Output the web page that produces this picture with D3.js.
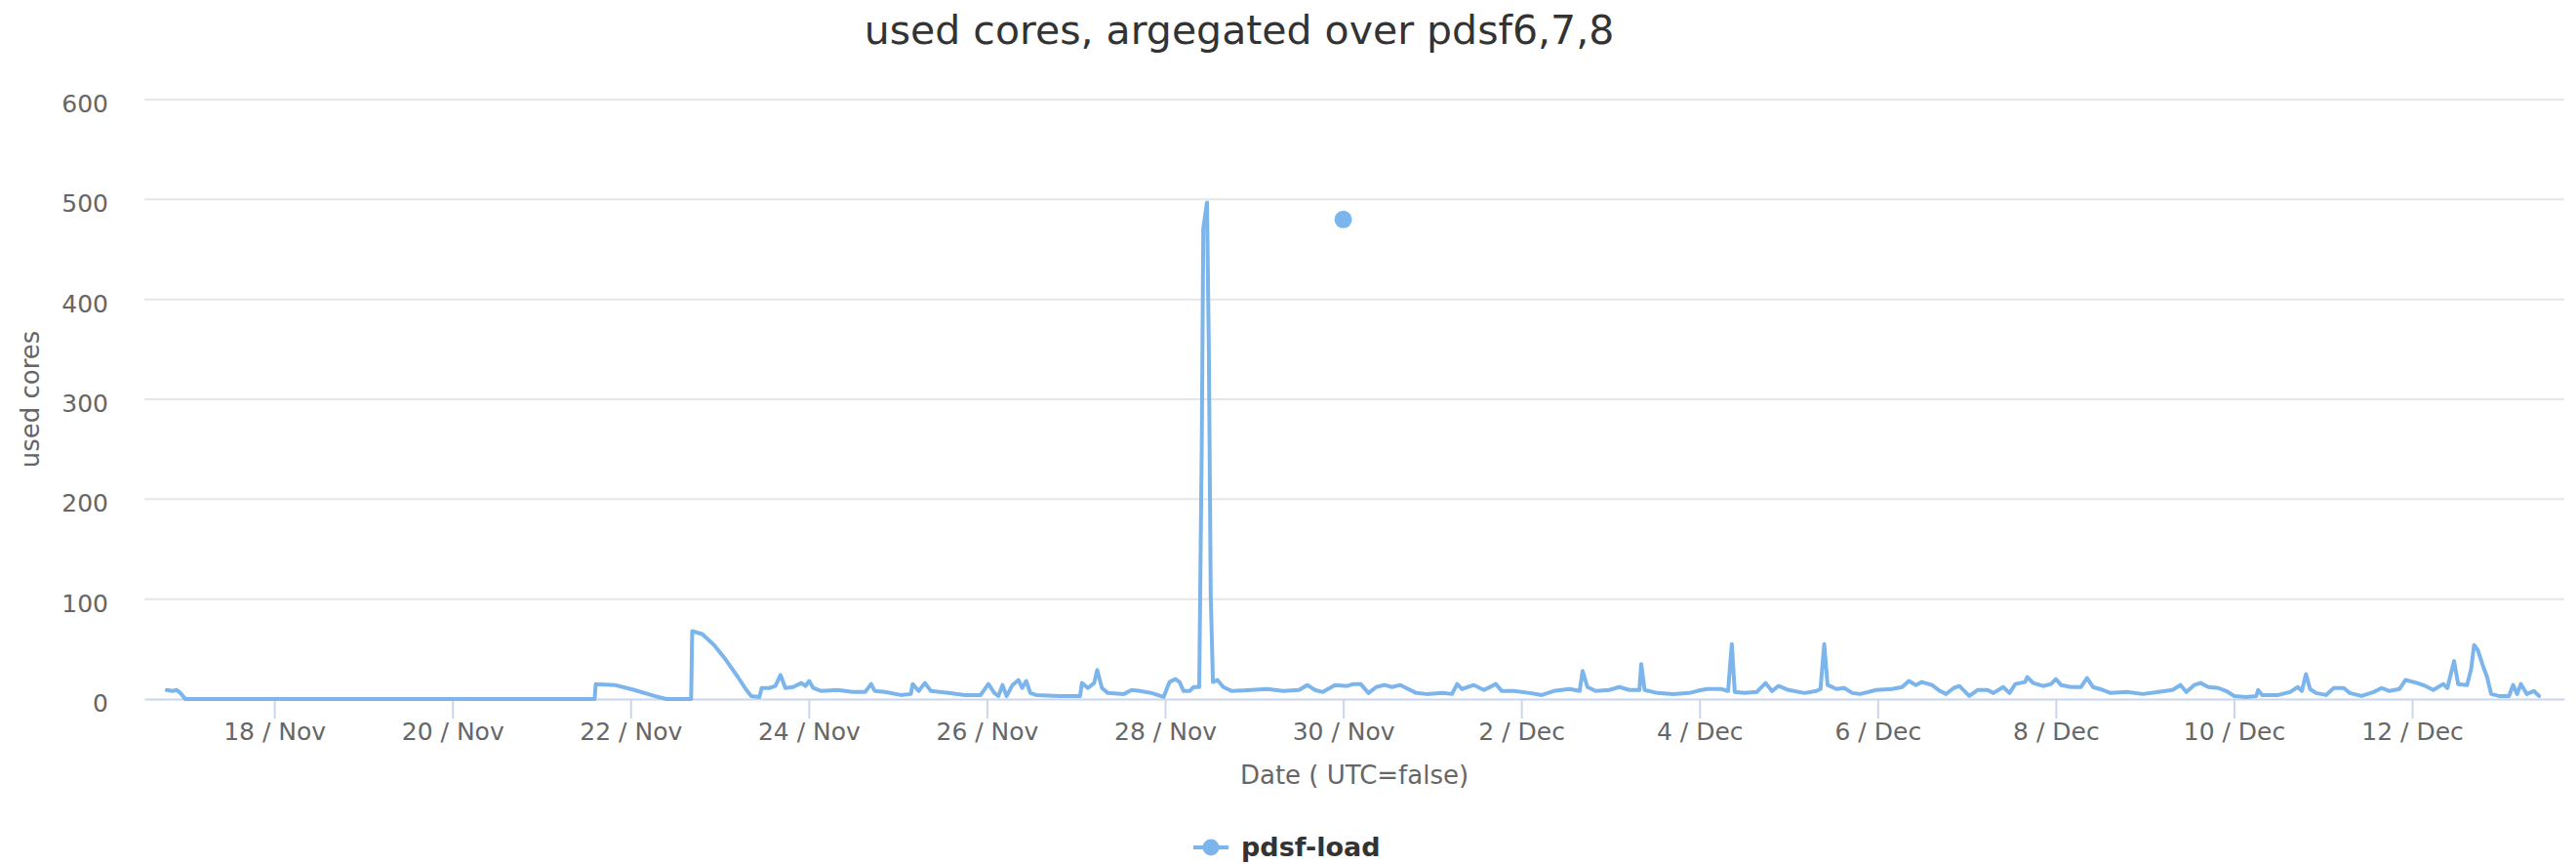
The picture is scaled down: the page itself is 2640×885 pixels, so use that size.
<!DOCTYPE html>
<html>
<head>
<meta charset="utf-8">
<script src="https://cdn.jsdelivr.net/npm/d3@7"></script>
<style>
  body { margin: 0; background: #fff; }
  svg text { font-family: "DejaVu Sans", sans-serif; }
</style>
</head>
<body>
<svg></svg>
<script>
(function (d3) {
  'use strict';

  // --- data ---
  const chartTitle = 'used cores, argegated over pdsf6,7,8';
  const seriesName = 'pdsf-load';
  const yTitle = 'used cores';
  const xTitle = 'Date ( UTC=false)';
  const yTicks = [0, 100, 200, 300, 400, 500, 600];

  // hours counted from 18 Nov 00:00
  const startDay = new Date(2017, 10, 18);
  const xDomainHours = [-35, 617];

  const hours = [
    -29.0, -27.4, -26.3, -25.3, -24.4, -24.0, 86.3, 86.6, 91.7, 97.0,
    102.4, 104.5, 105.6, 112.3, 112.6, 115.3, 118.5, 121.7, 124.9, 127.0,
    128.5, 130.7, 131.3, 133.4, 135.0, 136.4, 137.7, 139.8, 142.0, 143.1,
    144.1, 145.2, 147.4, 151.7, 155.9, 159.2, 160.8, 161.8, 164.5, 168.8,
    171.5, 172.0, 173.6, 175.3, 176.9, 181.7, 186.0, 190.3, 192.4, 194.0,
    195.1, 196.2, 197.3, 198.9, 200.5, 201.5, 202.6, 203.7, 205.3, 211.7,
    217.1, 217.6, 219.2, 220.9, 221.7, 223.0, 224.6, 228.9, 231.0, 233.2,
    236.4, 239.6, 241.2, 242.8, 243.9, 245.0, 246.6, 247.7, 249.2, 249.9,
    250.3, 251.3, 251.8, 252.3, 252.9, 254.1, 255.7, 257.9, 263.2, 267.5,
    271.8, 276.1, 278.3, 280.4, 282.5, 285.8, 289.0, 290.8, 292.7, 294.8,
    296.9, 299.1, 301.2, 303.4, 305.5, 307.7, 310.4, 314.7, 317.3, 318.7,
    320.0, 323.2, 325.9, 329.1, 330.7, 334.0, 338.3, 341.5, 344.7, 349.0,
    351.7, 352.5, 353.8, 356.0, 359.7, 362.4, 365.1, 367.8, 368.3, 369.2,
    372.6, 376.9, 381.2, 383.3, 386.0, 389.8, 391.7, 392.7, 393.5, 396.2,
    399.4, 401.8, 403.5, 405.3, 408.0, 412.3, 415.5, 416.6, 417.6, 418.5,
    420.9, 423.0, 425.2, 427.3, 431.6, 435.9, 438.6, 440.4, 442.3, 443.9,
    446.6, 448.8, 450.4, 452.5, 454.0, 456.7, 458.9, 461.6, 463.2, 465.8,
    467.5, 469.1, 471.7, 472.3, 473.9, 476.6, 478.7, 480.0, 481.4, 484.1,
    486.8, 488.4, 490.0, 492.7, 494.8, 499.1, 503.4, 507.7, 511.4, 513.6,
    515.2, 517.3, 519.0, 521.1, 523.8, 525.9, 528.1, 531.3, 534.0, 534.5,
    535.6, 539.9, 543.1, 545.2, 546.3, 547.4, 548.5, 550.1, 552.8, 554.9,
    557.6, 559.2, 562.4, 565.6, 567.8, 569.9, 572.6, 574.2, 577.4, 579.6,
    581.7, 584.4, 585.5, 587.3, 588.4, 590.8, 591.9, 592.7, 593.7, 595.1,
    596.2, 597.3, 599.4, 602.1, 603.2, 604.3, 605.3, 606.9, 608.8, 610.2
  ];

  const cores = [
    9, 8, 9, 6, 2, 0, 0, 15, 14, 9,
    3, 1, 0, 0, 68, 65, 54, 39, 22, 10,
    3, 2, 11, 11, 13, 24, 11, 12, 16, 13,
    18, 11, 8, 9, 7, 7, 15, 8, 7, 4,
    5, 15, 8, 16, 8, 6, 4, 4, 15, 6,
    3, 14, 3, 14, 19, 11, 18, 6, 4, 3,
    3, 16, 11, 16, 29, 11, 6, 5, 9, 8,
    6, 2, 17, 20, 17, 8, 8, 12, 12, 259,
    471, 497, 349, 105, 17, 19, 12, 8, 9, 10,
    8, 9, 14, 9, 7, 14, 13, 15, 15, 6,
    12, 14, 12, 14, 10, 6, 5, 6, 5, 15,
    10, 14, 9, 15, 8, 8, 6, 4, 8, 10,
    8, 28, 12, 8, 9, 12, 9, 9, 35, 9,
    6, 5, 6, 8, 10, 10, 8, 55, 7, 6,
    7, 16, 8, 13, 9, 6, 8, 10, 55, 14,
    10, 11, 6, 5, 9, 10, 12, 18, 14, 17,
    14, 8, 5, 11, 13, 3, 9, 9, 6, 12,
    6, 15, 17, 22, 16, 13, 15, 20, 14, 12,
    12, 21, 12, 9, 6, 7, 5, 7, 9, 14,
    7, 14, 16, 12, 11, 8, 3, 2, 3, 9,
    4, 4, 7, 12, 8, 25, 10, 6, 4, 11,
    11, 6, 3, 7, 11, 8, 10, 19, 16, 13,
    9, 15, 11, 38, 15, 14, 30, 54, 49, 33,
    22, 5, 3, 3, 14, 5, 15, 5, 8, 3
  ];

  // the single isolated point (30 Nov 00:00)
  const loneHours = [288];
  const loneCores = [480];

  // --- layout ---
  const width = 2640;
  const height = 885;
  const plot = { left: 148, right: 2628, top: 102, bottom: 716 };
  const lineColor = '#7cb5ec';

  const atHour = h => new Date(startDay.getTime() + h * 3600e3);

  const data = hours.map((h, i) => ({ time: atHour(h), value: cores[i] }));
  const lone = loneHours.map((h, i) => ({ time: atHour(h), value: loneCores[i] }));

  const svg = d3.select('svg')
    .attr('width', width)
    .attr('height', height);

  const x = d3.scaleTime()
    .domain(xDomainHours.map(atHour))
    .range([plot.left, plot.right]);

  const y = d3.scaleLinear()
    .domain([0, 600])
    .range([plot.bottom, plot.top]);

  // title
  svg.append('text')
    .attr('x', 1270)
    .attr('y', 45)
    .attr('text-anchor', 'middle')
    .attr('font-size', 41)
    .attr('fill', '#333333')
    .text(chartTitle);

  // grid lines
  svg.append('g').selectAll('line').data(yTicks.filter(v => v > 0))
    .enter().append('line')
      .attr('x1', plot.left)
      .attr('x2', plot.right)
      .attr('y1', d => y(d))
      .attr('y2', d => y(d))
      .attr('stroke', '#e6e6e6')
      .attr('stroke-width', 2);

  // y axis labels
  const yAxisG = svg.append('g')
    .attr('transform', `translate(${plot.left - 37},0)`)
    .call(d3.axisLeft(y).tickValues(yTicks).tickSize(0).tickPadding(0));
  yAxisG.select('.domain').remove();
  yAxisG.selectAll('text')
    .attr('font-size', 25)
    .attr('font-family', '"DejaVu Sans", sans-serif')
    .attr('fill', '#666666')
    .attr('dy', '0.5em');

  svg.append('text')
    .attr('transform', `translate(40,${(plot.top + plot.bottom) / 2}) rotate(-90)`)
    .attr('text-anchor', 'middle')
    .attr('font-size', 26)
    .attr('fill', '#666666')
    .text(yTitle);

  // x axis
  const dayTicks = d3.timeDay.range(x.domain()[0], x.domain()[1])
    .filter(d => d.getDate() % 2 === 0);

  const xAxisG = svg.append('g')
    .attr('transform', `translate(0,${plot.bottom})`)
    .call(d3.axisBottom(x)
      .tickValues(dayTicks)
      .tickFormat(d3.timeFormat('%-d / %b'))
      .tickSize(20)
      .tickSizeOuter(0)
      .tickPadding(4));
  xAxisG.select('.domain')
    .attr('stroke', '#ccd6eb')
    .attr('stroke-width', 2);
  xAxisG.selectAll('.tick line')
    .attr('stroke', '#ccd6eb')
    .attr('stroke-width', 2);
  xAxisG.selectAll('text')
    .attr('font-size', 25)
    .attr('font-family', '"DejaVu Sans", sans-serif')
    .attr('fill', '#666666');

  svg.append('text')
    .attr('x', (plot.left + plot.right) / 2)
    .attr('y', 803)
    .attr('text-anchor', 'middle')
    .attr('font-size', 26)
    .attr('fill', '#666666')
    .text(xTitle);

  // series
  const lineGen = d3.line()
    .x(d => x(d.time))
    .y(d => y(d.value));

  svg.append('path')
    .datum(data)
    .attr('d', lineGen)
    .attr('fill', 'none')
    .attr('stroke', lineColor)
    .attr('stroke-width', 4)
    .attr('stroke-linejoin', 'round')
    .attr('stroke-linecap', 'round');

  svg.append('g').selectAll('circle').data(lone)
    .enter().append('circle')
      .attr('cx', d => x(d.time))
      .attr('cy', d => y(d.value))
      .attr('r', 9)
      .attr('fill', lineColor);

  // legend
  const legendG = svg.append('g')
    .attr('transform', 'translate(1223,868)');
  legendG.append('line')
    .attr('x1', 0).attr('x2', 36)
    .attr('stroke', lineColor)
    .attr('stroke-width', 4);
  legendG.append('circle')
    .attr('cx', 18)
    .attr('r', 8.5)
    .attr('fill', lineColor);
  legendG.append('text')
    .attr('x', 49)
    .attr('y', 9)
    .attr('font-size', 27)
    .attr('font-weight', 'bold')
    .attr('fill', '#333333')
    .text(seriesName);

}(d3));
</script>
</body>
</html>
